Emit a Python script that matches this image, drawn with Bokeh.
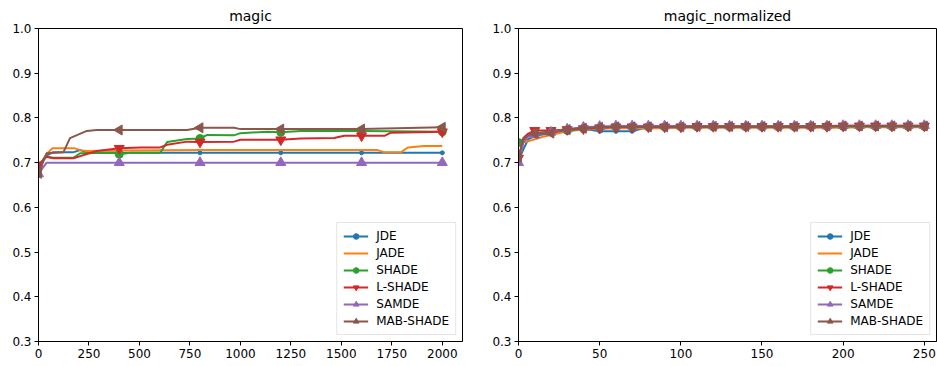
import math
from bokeh.plotting import figure
from bokeh.layouts import row
from bokeh.models import Range1d, FixedTicker, PrintfTickFormatter, Legend, LegendItem
from bokeh.embed import file_html
from bokeh.resources import INLINE

# ---------------- data: panel "magic" ----------------
NAMES = ["JDE", "JADE", "SHADE", "L-SHADE", "SAMDE", "MAB-SHADE"]
COLORS = ["#1f77b4", "#ff7f0e", "#2ca02c", "#d62728", "#9467bd", "#8c564b"]

L_JDE_X = [0, 40, 70, 170, 206, 240, 400, 800, 1200, 1600, 2000]
L_JDE_Y = [0.690, 0.716, 0.723, 0.723, 0.728, 0.723, 0.722, 0.722, 0.722, 0.722, 0.722]

L_JADE_X = [0, 40, 70, 180, 206, 240, 400, 800, 1200, 1600, 1680, 1713, 1795, 1829, 1911, 2000]
L_JADE_Y = [0.688, 0.720, 0.732, 0.732, 0.728, 0.726, 0.727, 0.728, 0.728, 0.728, 0.728,
            0.723, 0.723, 0.734, 0.737, 0.737]

L_SHADE_X = [0, 32, 74, 173, 206, 388, 400, 455, 603, 637, 736, 800, 835, 968, 1000, 1133,
             1200, 1300, 1600, 2000]
L_SHADE_Y = [0.690, 0.713, 0.711, 0.711, 0.721, 0.722, 0.719, 0.722, 0.722, 0.746, 0.753,
             0.754, 0.762, 0.761, 0.766, 0.769, 0.768, 0.771, 0.771, 0.769]

L_LSHADE_X = [0, 40, 74, 173, 239, 289, 400, 504, 603, 637, 736, 800, 968, 1000, 1200, 1299,
              1464, 1514, 1600, 1713, 1746, 2000]
L_LSHADE_Y = [0.695, 0.713, 0.710, 0.710, 0.719, 0.726, 0.732, 0.734, 0.734, 0.740, 0.747,
              0.746, 0.747, 0.751, 0.751, 0.754, 0.755, 0.760, 0.760, 0.760, 0.767, 0.769]

L_SAMDE_X = [0, 40, 400, 800, 1200, 1600, 2000]
L_SAMDE_Y = [0.675, 0.700, 0.700, 0.700, 0.700, 0.700, 0.700]

L_MAB_X = [0, 40, 123, 156, 239, 289, 400, 736, 800, 968, 1000, 1200, 1600, 2000]
L_MAB_Y = [0.676, 0.721, 0.723, 0.755, 0.771, 0.773, 0.773, 0.773, 0.778, 0.778, 0.775,
           0.775, 0.775, 0.779]

# ---------------- data: panel "magic_normalized" ----------------
R_X = [0, 3, 6, 10, 15, 20, 30, 40, 50, 60, 70, 80, 90, 100, 110, 120, 130, 140, 150, 160,
       170, 180, 190, 200, 210, 220, 230, 240, 250]
R_JDE = [0.705, 0.730, 0.752, 0.760, 0.763, 0.768, 0.773, 0.776, 0.770, 0.770, 0.770, 0.780,
         0.780, 0.780, 0.780, 0.780, 0.780, 0.780, 0.780, 0.780, 0.780, 0.780, 0.780, 0.780,
         0.781, 0.781, 0.781, 0.781, 0.781]
R_JADE = [0.710, 0.745, 0.748, 0.752, 0.758, 0.762, 0.770, 0.774, 0.776, 0.777, 0.777, 0.777,
          0.777, 0.778, 0.778, 0.778, 0.778, 0.778, 0.778, 0.778, 0.778, 0.778, 0.778, 0.778,
          0.779, 0.779, 0.779, 0.779, 0.779]
R_SHADE = [0.745, 0.752, 0.762, 0.765, 0.768, 0.770, 0.772, 0.776, 0.778, 0.780, 0.780, 0.780,
           0.780, 0.780, 0.780, 0.780, 0.780, 0.780, 0.780, 0.780, 0.780, 0.781, 0.781, 0.781,
           0.781, 0.781, 0.781, 0.781, 0.781]
R_LSHADE = [0.710, 0.755, 0.765, 0.772, 0.772, 0.772, 0.774, 0.776, 0.778, 0.780, 0.780, 0.780,
            0.780, 0.780, 0.781, 0.781, 0.781, 0.781, 0.781, 0.781, 0.781, 0.781, 0.781, 0.782,
            0.782, 0.782, 0.782, 0.782, 0.782]
R_SAMDE = [0.700, 0.745, 0.758, 0.762, 0.765, 0.768, 0.775, 0.779, 0.781, 0.782, 0.782, 0.782,
           0.782, 0.782, 0.782, 0.782, 0.782, 0.782, 0.782, 0.782, 0.782, 0.782, 0.782, 0.783,
           0.783, 0.783, 0.783, 0.783, 0.783]
R_MAB = [0.712, 0.752, 0.762, 0.765, 0.765, 0.766, 0.774, 0.777, 0.779, 0.780, 0.780, 0.780,
         0.780, 0.780, 0.781, 0.781, 0.781, 0.781, 0.781, 0.781, 0.781, 0.781, 0.782, 0.782,
         0.782, 0.782, 0.782, 0.782, 0.782]

Y_TICKS = [0.3, 0.4, 0.5, 0.6, 0.7, 0.8, 0.9, 1.0]
L_X_TICKS = [0, 250, 500, 750, 1000, 1250, 1500, 1750, 2000]
R_X_TICKS = [0, 50, 100, 150, 200, 250]

FONT = "DejaVu Sans"

# marker specs: (marker, size, angle)
MARKERS = [("circle", 4, 0.0), (None, 0, 0.0), ("circle", 8, 0.0),
           ("inverted_triangle", 10, 0.0), ("triangle", 10, 0.0), ("triangle", 10, math.pi / 2)]


def make_panel(title, series, xmax, xticks, every, width, right_border):
    p = figure(width=width, height=366, output_backend="svg", toolbar_location=None,
               x_range=Range1d(0, xmax), y_range=Range1d(0.3, 1.0),
               min_border_left=38, min_border_right=right_border,
               min_border_top=25, min_border_bottom=25)
    p.title.text = title
    p.title.align = "center"
    p.title.text_font = FONT
    p.title.text_font_style = "normal"
    p.title.text_font_size = "14px"
    p.title.text_color = "black"
    p.grid.visible = False
    p.outline_line_color = "black"
    p.outline_line_alpha = 1
    p.outline_line_width = 1
    p.background_fill_color = "white"
    p.border_fill_color = "white"
    for ax in (p.xaxis, p.yaxis):
        ax.axis_line_color = "black"
        ax.major_tick_line_color = "black"
        ax.major_tick_out = 4
        ax.major_tick_in = 0
        ax.minor_tick_line_color = None
        ax.major_label_text_font = FONT
        ax.major_label_text_font_size = "12px"
        ax.major_label_text_color = "black"
        ax.major_label_standoff = 3
    p.xaxis.ticker = FixedTicker(ticks=xticks)
    p.yaxis.ticker = FixedTicker(ticks=Y_TICKS)
    p.yaxis.formatter = PrintfTickFormatter(format="%.1f")

    items = []
    for (xs, ys), name, color, (mk, sz, ang) in zip(series, NAMES, COLORS, MARKERS):
        rends = [p.line(xs, ys, line_color=color, line_width=2)]
        if mk is not None:
            mx = [x for x in xs if x % every == 0]
            my = [y for x, y in zip(xs, ys) if x % every == 0]
            rends.append(p.scatter(mx, my, marker=mk, size=sz, angle=ang,
                                   fill_color=color, line_color=color))
        items.append(LegendItem(label=name, renderers=rends))
    leg = Legend(items=items, location="bottom_right")
    leg.label_text_font = FONT
    leg.label_text_font_size = "12px"
    leg.label_text_color = "black"
    leg.glyph_width = 25
    leg.glyph_height = 14
    leg.label_height = 14
    leg.spacing = 3
    leg.padding = 6
    leg.margin = 6
    leg.label_standoff = 8
    leg.border_line_color = "#cccccc"
    leg.border_line_width = 1
    leg.background_fill_alpha = 0.9
    p.add_layout(leg)
    return p


left_series = [(L_JDE_X, L_JDE_Y), (L_JADE_X, L_JADE_Y), (L_SHADE_X, L_SHADE_Y),
               (L_LSHADE_X, L_LSHADE_Y), (L_SAMDE_X, L_SAMDE_Y), (L_MAB_X, L_MAB_Y)]
right_series = [(R_X, R_JDE), (R_X, R_JADE), (R_X, R_SHADE), (R_X, R_LSHADE),
                (R_X, R_SAMDE), (R_X, R_MAB)]

p1 = make_panel("magic", left_series, 2100, L_X_TICKS, 400, 480, 18)
p2 = make_panel("magic_normalized", right_series, 257.5, R_X_TICKS, 10, 457, 1)

layout = row(p1, p2, spacing=0)
open("out.html", "w").write(file_html(layout, INLINE))
